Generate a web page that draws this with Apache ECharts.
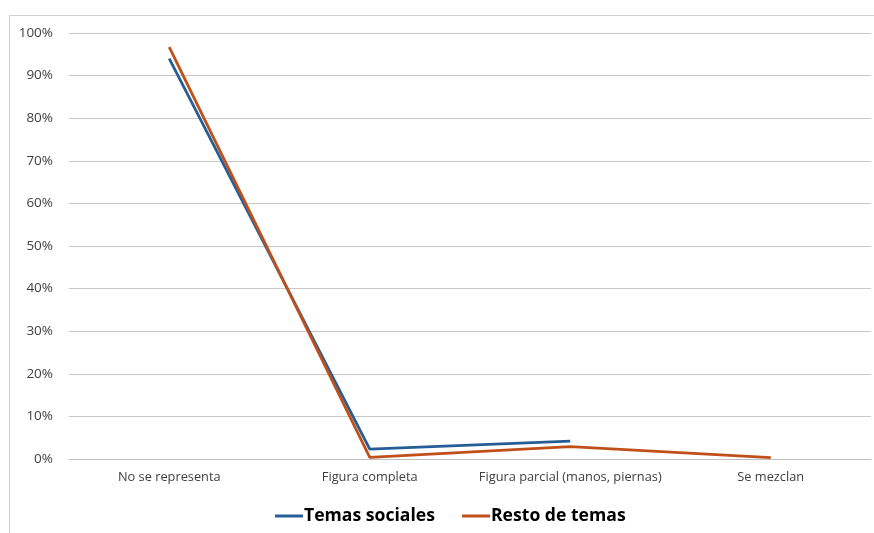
<!DOCTYPE html>
<html><head><meta charset="utf-8">
<script src="https://cdn.jsdelivr.net/npm/echarts@6/dist/echarts.min.js"></script>
<style>html,body{margin:0;padding:0;background:#fff}#c{width:874px;height:533px;position:relative}
#frame{position:absolute;left:9px;top:15px;width:870px;height:530px;border-left:1px solid #d0d0d0;border-top:1px solid #d0d0d0;pointer-events:none}</style>
</head><body><div id="c"></div><div id="frame"></div>
<script>
const categories = ['No se representa', 'Figura completa', 'Figura parcial (manos, piernas)', 'Se mezclan'];
const seriesNames = ['Temas sociales', 'Resto de temas'];
const temasSociales = [94, 2.3, 4.2, null];
const restoTemas = [96.7, 0.4, 2.9, 0.3];
const yTicks = [0, 10, 20, 30, 40, 50, 60, 70, 80, 90, 100];

const chart = echarts.init(document.getElementById('c'), null, {renderer: 'canvas'});
const font = '"Open Sans", Lato, sans-serif';
chart.setOption({
  animation: false,
  backgroundColor: '#fff',
  grid: {left: 69, right: 3, top: 33, bottom: 74, containLabel: false},
  legend: {
    bottom: 3, left: 270,
    data: seriesNames,
    icon: 'rect', itemWidth: 28, itemHeight: 3, itemGap: 27,
    textStyle: {fontFamily: font, fontSize: 17.6, fontWeight: 'bold', color: '#000', padding: [0,0,0,-4]}
  },
  xAxis: {
    type: 'category', data: categories, boundaryGap: true,
    axisLine: {show: true, lineStyle: {color: '#bfbfbf', width: 1}},
    axisTick: {show: false},
    axisLabel: {fontFamily: font, fontSize: 12.8, color: '#404040', margin: 12, interval: 0}
  },
  yAxis: {
    type: 'value', min: 0, max: 100, interval: 10,
    axisLine: {show: false}, axisTick: {show: false},
    splitLine: {lineStyle: {color: '#c8c8c8', width: 1}},
    axisLabel: {fontFamily: font, fontSize: 13.5, color: '#404040', margin: 16,
      formatter: v => yTicks.includes(v) ? v + '%' : ''}
  },
  series: [
    {name: seriesNames[0], type: 'line', data: temasSociales, symbol: 'none',
     lineStyle: {color: '#255e96', width: 2.8}, itemStyle: {color: '#255e96'}, connectNulls: false},
    {name: seriesNames[1], type: 'line', data: restoTemas, symbol: 'none',
     lineStyle: {color: '#c0501a', width: 2.8}, itemStyle: {color: '#c0501a'}}
  ]
});
</script></body></html>
